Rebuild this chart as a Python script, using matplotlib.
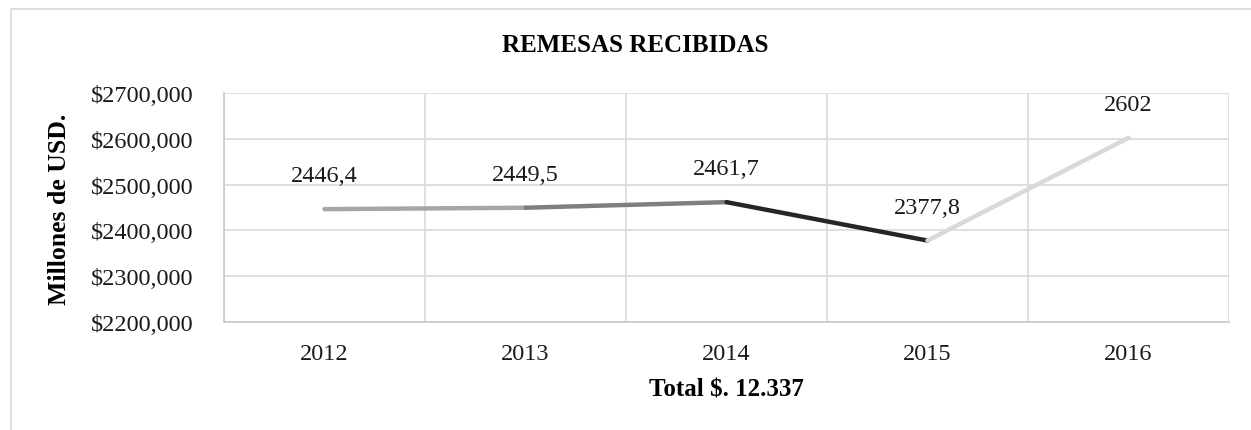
import matplotlib
matplotlib.use("Agg")
import matplotlib.pyplot as plt
from matplotlib.patches import Rectangle

years = ["2012", "2013", "2014", "2015", "2016"]
values = [2446.4, 2449.5, 2461.7, 2377.8, 2602]
value_labels = ["2446,4", "2449,5", "2461,7", "2377,8", "2602"]
segment_colors = ["#a6a6a6", "#7f7f7f", "#262626", "#d9d9d9"]
yticks = [2200, 2300, 2400, 2500, 2600, 2700]
ytick_labels = ["$2200,000", "$2300,000", "$2400,000", "$2500,000", "$2600,000", "$2700,000"]
title = "REMESAS RECIBIDAS"
ylabel = "Millones de USD."
xlabel = "Total $. 12.337"

plt.rcParams['font.family'] = ['Liberation Serif', 'DejaVu Serif']

W, H = 1251, 431
fig = plt.figure(figsize=(W / 100, H / 100), dpi=100)
# outer chart border (left and top visible)
fig.patches.append(Rectangle((11 / W, -0.1), 1.2, 1 - 10 / H + 0.1, transform=fig.transFigure,
                             fill=False, edgecolor="#d9d9d9", linewidth=1.2))

ax = fig.add_axes([224 / W, 1 - 323 / H, (1229 - 224) / W, (323 - 94) / H])
x = list(range(len(years)))
for i in range(len(years) - 1):
    ax.plot(x[i:i + 2], values[i:i + 2], color=segment_colors[i], linewidth=3.2,
            solid_capstyle="round", zorder=3)
for xi, v, lab in zip(x, values, value_labels):
    ax.annotate(lab, (xi, v), xytext=(0, 24), textcoords="offset points",
                ha="center", va="center", fontsize=17.5, color="#1a1a1a")

ax.set_xlim(-0.5, len(years) - 0.5)
ax.set_ylim(yticks[0], yticks[-1])
ax.set_yticks(yticks)
ax.set_yticklabels(ytick_labels)
ax.set_xticks(x)
ax.set_xticklabels(years)
ax.set_xticks([i - 0.5 for i in range(len(years) + 1)], minor=True)
ax.tick_params(axis="both", which="both", length=0, labelsize=17.5, colors="#1a1a1a")
ax.tick_params(axis="y", pad=22)
ax.tick_params(axis="x", pad=15)
ax.grid(True, axis="y", which="major", color="#d9d9d9", linewidth=1.2)
ax.grid(True, axis="x", which="minor", color="#d9d9d9", linewidth=1.2)
ax.grid(False, axis="x", which="major")
for s in ["top", "right"]:
    ax.spines[s].set_visible(False)
for s in ["left", "bottom"]:
    ax.spines[s].set_color("#c8c8c8")
    ax.spines[s].set_linewidth(1.2)

fig.text(635 / W, 1 - 46 / H, title, ha="center", va="center", fontsize=18, fontweight="bold")
fig.text(60 / W, 1 - 209 / H, ylabel, ha="center", va="center", rotation=90, fontsize=18.5, fontweight="bold")
fig.text(726 / W, 1 - 390 / H, xlabel, ha="center", va="center", fontsize=18, fontweight="bold")

fig.savefig("out.png", dpi=100)
